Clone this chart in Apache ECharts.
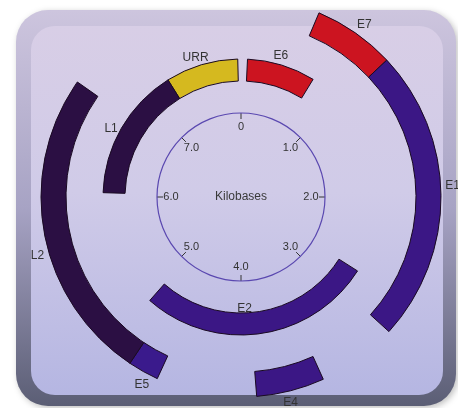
<!DOCTYPE html>
<html><head><meta charset="utf-8">
<script src="https://cdn.jsdelivr.net/npm/echarts@6/dist/echarts.min.js"></script>
<style>html,body{margin:0;padding:0;background:#fff}#c{width:458px;height:408px}</style>
</head><body><div id="c"></div>
<script>
// ---- data ----
const genes       = ['URR', 'L1', 'E6', 'E2', 'E7', 'E1', 'E4', 'E5', 'L2'];
const geneStart   = [7.29, 6.04, 0.06, 2.72, 0.51, 1.04, 3.46, 4.55, 4.75];
const geneEnd     = [7.97, 7.29, 0.70, 4.92, 1.04, 2.94, 3.90, 4.75, 6.78];
const geneRing    = [0, 0, 0, 0, 1, 1, 1, 1, 1];           // 0 = inner ring, 1 = outer ring
const geneLabelAt = [7.60, 6.62, 0.35, 3.96, 0.79, 1.93, 3.70, 4.62, 5.64];
const geneLabelIn = [false, false, false, true, false, false, false, false, false];
const tickValues  = [0, 1, 2, 3, 4, 5, 6, 7];
const tickLabels  = ['0', '1.0', '2.0', '3.0', '4.0', '5.0', '6.0', '7.0'];
const genomeMax   = 8;
const centerTitle = 'Kilobases';

// ---- styles ----
const geneColor = {
  URR: '#d5b91f', L1: '#2b0f43', L2: '#2b0f43',
  E6: '#cc1420', E7: '#cc1420',
  E1: '#3b1785', E2: '#3b1785', E4: '#3b1785', E5: '#3a1a8c'
};
const rings = [[116, 138], [175, 200]];
const FONT = 'Liberation Sans, Arial, sans-serif';
const C = [241, 197];
const SCALE_R = 84;

const chart = echarts.init(document.getElementById('c'));
chart.setOption({
  animation: false,
  backgroundColor: '#ffffff',
  graphic: [
    { type: 'rect', z: -10, shape: { x: 16, y: 10, width: 440, height: 396, r: 32 },
      style: { fill: new echarts.graphic.LinearGradient(0, 0, 0, 1, [
        { offset: 0, color: '#cdc5de' }, { offset: 0.5, color: '#a7a3c4' }, { offset: 1, color: '#5b5e75' }]),
        shadowBlur: 6, shadowColor: 'rgba(0,0,0,0.25)', shadowOffsetX: 2, shadowOffsetY: 2 } },
    { type: 'rect', z: -9, shape: { x: 31, y: 26, width: 412, height: 369, r: 24 },
      style: { fill: new echarts.graphic.LinearGradient(0, 0, 0, 1, [
        { offset: 0, color: '#d8cee6' }, { offset: 0.45, color: '#d0cbe8' }, { offset: 1, color: '#b5b6e2' }]) } }
  ],
  polar: [
    { center: C, radius: 200 },
    { center: C, radius: SCALE_R }
  ],
  radiusAxis: [
    { polarIndex: 0, type: 'value', min: 0, max: 200, show: false },
    { polarIndex: 1, type: 'value', min: 0, max: SCALE_R, show: false }
  ],
  angleAxis: [
    { polarIndex: 0, type: 'value', min: 0, max: genomeMax, startAngle: 90, clockwise: true, show: false },
    { polarIndex: 1, type: 'value', min: 0, max: genomeMax, interval: 1, startAngle: 90, clockwise: true,
      axisLine: { lineStyle: { color: '#5a48b0', width: 1.2 } },
      axisTick: { inside: true, length: 6, lineStyle: { color: '#333', width: 1 } },
      axisLabel: { show: false },
      splitLine: { show: false } }
  ],
  series: [{
    type: 'custom',
    coordinateSystem: 'polar',
    polarIndex: 0,
    data: genes.map((g, i) => [geneStart[i], geneEnd[i], geneRing[i], i]),
    renderItem: function (params, api) {
      const cs = params.coordSys;
      const i = api.value(3);
      const ring = rings[api.value(2)];
      const ang = v => { const p = api.coord([ring[1], v]); return Math.atan2(p[1] - cs.cy, p[0] - cs.cx); };
      let a0 = ang(api.value(0)), a1 = ang(api.value(1));
      if (a1 <= a0) a1 += Math.PI * 2;
      const name = genes[i];
      const lr = geneLabelIn[i] ? ring[0] - 4 : ring[1] + (api.value(2) === 0 ? 9 : 12);
      const lp = api.coord([lr, geneLabelAt[i]]);
      return {
        type: 'group',
        children: [
          { type: 'sector',
            shape: { cx: cs.cx, cy: cs.cy, r0: ring[0], r: ring[1], startAngle: a0, endAngle: a1, clockwise: true },
            style: { fill: geneColor[name], stroke: '#1a0a22', lineWidth: 1 } },
          { type: 'text', z2: 10,
            style: { text: name, x: lp[0], y: lp[1], align: 'center', verticalAlign: 'middle',
              fontFamily: FONT, fontSize: 12, fill: '#333' } }
        ]
      };
    }
  }, {
    type: 'custom',
    coordinateSystem: 'polar',
    polarIndex: 1,
    data: tickValues.map((v, k) => [SCALE_R - 14, v, k]),
    renderItem: function (params, api) {
      const p = api.coord([api.value(0), api.value(1)]);
      return { type: 'text', style: { text: tickLabels[api.value(2)], x: p[0], y: p[1], align: 'center', verticalAlign: 'middle',
        fontFamily: FONT, fontSize: 11, fill: '#333' } };
    }
  }, {
    type: 'custom',
    coordinateSystem: 'polar',
    polarIndex: 1,
    data: [[0, 0]],
    renderItem: function (params, api) {
      const p = api.coord([0, 0]);
      return { type: 'text', style: { text: centerTitle, x: p[0], y: p[1], align: 'center', verticalAlign: 'middle',
        fontFamily: FONT, fontSize: 12, fill: '#3a3a3a' } };
    }
  }]
});
</script>
</body></html>
